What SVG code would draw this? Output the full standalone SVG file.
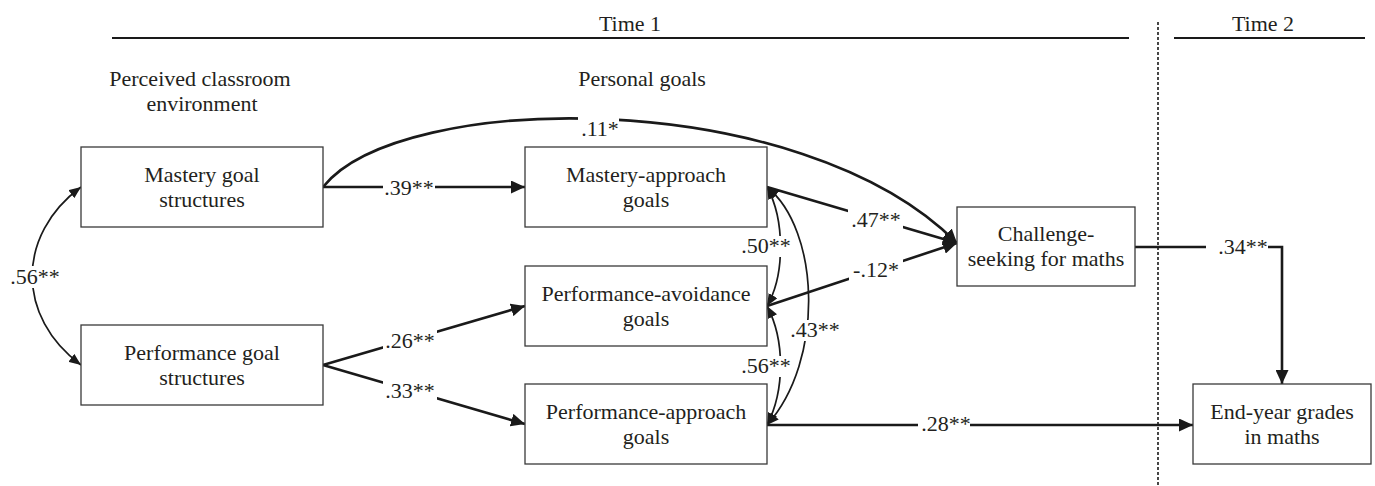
<svg xmlns="http://www.w3.org/2000/svg" width="1375" height="486" viewBox="0 0 1375 486">
<style>
text{font-family:"Liberation Serif","Times New Roman",serif;font-size:22px;fill:#231f20;text-anchor:middle}
.box{fill:#fff;stroke:#3a3a3a;stroke-width:1.3}
.path{fill:none;stroke:#1a1a1a;stroke-width:2.6}
.cor{fill:none;stroke:#1a1a1a;stroke-width:1.7}
.gap{fill:#fff}
.rule{stroke:#1a1a1a;stroke-width:2}
</style>
<defs>
<marker id="ah" viewBox="0 0 14 13" refX="14" refY="6.5" markerWidth="14" markerHeight="13" orient="auto-start-reverse" markerUnits="userSpaceOnUse"><path d="M0,0 L14,6.5 L0,13 z" fill="#1a1a1a"/></marker>
<marker id="ahs" viewBox="0 0 12 10" refX="12" refY="5" markerWidth="12" markerHeight="10" orient="auto-start-reverse" markerUnits="userSpaceOnUse"><path d="M0,0 L12,5 L0,10 z" fill="#1a1a1a"/></marker>
</defs>
<rect width="1375" height="486" fill="#fff"/>
<g id="header">
<text x="630" y="31">Time 1</text>
<line class="rule" x1="112" y1="38" x2="1129" y2="38"/>
<text x="1263" y="31">Time 2</text>
<line class="rule" x1="1174" y1="38" x2="1365" y2="38"/>
<line x1="1158" y1="22" x2="1158" y2="486" stroke="#1a1a1a" stroke-width="1.6" stroke-dasharray="3,2"/>
<text x="200" y="86">Perceived classroom</text>
<text x="202" y="111">environment</text>
<text x="642" y="86">Personal goals</text>
</g>
<g id="connectors">
<path class="path" d="M323,187 L525,187" marker-end="url(#ah)"/>
<path class="path" d="M323,187 C400,90 800,85 957,243" marker-end="url(#ah)"/>
<path class="path" d="M767,187 L957,243" marker-end="url(#ah)"/>
<path class="path" d="M767,306 L957,243" marker-end="url(#ah)"/>
<path class="path" d="M323,365 L525,306" marker-end="url(#ah)"/>
<path class="path" d="M323,365 L525,424" marker-end="url(#ah)"/>
<path class="path" d="M767,425 L1193,425" marker-end="url(#ah)"/>
<path class="path" d="M1135,247 H1282 V384" marker-end="url(#ah)"/>
<path class="cor" d="M81,187 C16,235 16,317 81,365" marker-start="url(#ahs)" marker-end="url(#ahs)"/>
<path class="cor" d="M767,187 C785,220 785,275 767,306" marker-start="url(#ahs)" marker-end="url(#ahs)"/>
<path class="cor" d="M767,306 C785,340 785,390 767,425" marker-start="url(#ahs)" marker-end="url(#ahs)"/>
<path class="cor" d="M767,187 C820,230 825,360 767,425" marker-start="url(#ahs)" marker-end="url(#ahs)"/>
</g>
<g id="labels">
<rect class="gap" x="383" y="177" width="52" height="21"/><text x="409" y="195">.39**</text>
<rect class="gap" x="578" y="110" width="41" height="28"/><text x="600" y="136">.11*</text>
<rect class="gap" x="848" y="205" width="55" height="26"/><text x="876" y="227">.47**</text>
<rect class="gap" x="849" y="258" width="54" height="24"/><text x="876" y="277">-.12*</text>
<rect class="gap" x="383" y="329" width="54" height="21"/><text x="410" y="348">.26**</text>
<rect class="gap" x="383" y="380" width="54" height="21"/><text x="410" y="398">.33**</text>
<rect class="gap" x="740" y="236" width="52" height="21"/><text x="766" y="253">.50**</text>
<rect class="gap" x="740" y="356" width="52" height="21"/><text x="766" y="373">.56**</text>
<rect class="gap" x="790" y="320" width="50" height="21"/><text x="815" y="337">.43**</text>
<rect class="gap" x="8" y="266" width="54" height="22"/><text x="35" y="284">.56**</text>
<rect class="gap" x="1206" y="238" width="62" height="20"/><text x="1243" y="254">.34**</text>
<rect class="gap" x="918" y="415" width="52" height="20"/><text x="946" y="431">.28**</text>
</g>
<g id="mastery-goal-structures">
<rect class="box" x="81" y="147" width="242" height="80"/>
<text x="202" y="182">Mastery goal</text>
<text x="202" y="207">structures</text>
</g>
<g id="performance-goal-structures">
<rect class="box" x="81" y="325" width="242" height="80"/>
<text x="202" y="360">Performance goal</text>
<text x="202" y="385">structures</text>
</g>
<g id="mastery-approach-goals">
<rect class="box" x="525" y="147" width="242" height="80"/>
<text x="646" y="182">Mastery-approach</text>
<text x="646" y="207">goals</text>
</g>
<g id="performance-avoidance-goals">
<rect class="box" x="525" y="266" width="242" height="80"/>
<text x="646" y="301">Performance-avoidance</text>
<text x="646" y="326">goals</text>
</g>
<g id="performance-approach-goals">
<rect class="box" x="525" y="384" width="242" height="80"/>
<text x="646" y="419">Performance-approach</text>
<text x="646" y="444">goals</text>
</g>
<g id="challenge-seeking">
<rect class="box" x="957" y="207" width="178" height="79"/>
<text x="1046" y="241">Challenge-</text>
<text x="1046" y="266">seeking for maths</text>
</g>
<g id="end-year-grades">
<rect class="box" x="1193" y="384" width="178" height="80"/>
<text x="1282" y="419">End-year grades</text>
<text x="1282" y="444">in maths</text>
</g>
</svg>
